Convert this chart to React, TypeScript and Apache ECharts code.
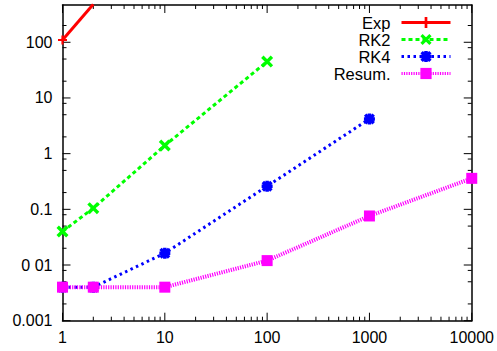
import React, { useEffect, useRef } from "react";
import * as echarts from "echarts";

const xMin = 1;
const xMax = 10000;
const yMin = 0.001;
const yMax = 467;

const expX = [1, 2];
const expY = [110, 480];
const rk2X = [1, 2, 10, 100];
const rk2Y = [0.04, 0.105, 1.4, 45];
const rk4X = [1, 2, 10, 100, 1000];
const rk4Y = [0.004, 0.004, 0.0163, 0.26, 4.2];
const resX = [1, 2, 10, 100, 1000, 10000];
const resY = [0.004, 0.004, 0.004, 0.012, 0.076, 0.36];

const xTickValues = [1, 10, 100, 1000, 10000];
const xTickLabels = ["1", "10", "100", "1000", "10000"];
const yTickValues = [0.001, 0.01, 0.1, 1, 10, 100];
const yTickLabels = ["0.001", "0 01", "0.1", "1", "10", "100"];
const xMinorMult = [2, 3, 4, 5, 6, 7, 8, 9];
const yMinorMult = [2, 5, 8];

const seriesNames = ["Exp", "RK2", "RK4", "Resum."];
const legendTops = [14, 31, 48, 65];

const FONT = "Liberation Sans";

const plusPath = "path://M3.8,0H6.2V10H3.8Z M0,3.8H10V6.2H0Z";
const crossPath = "path://M0,2L2,0L10,8L8,10Z M8,0L10,2L2,10L0,8Z";
const starPath =
  "path://M3.4,0H6.6V10H3.4Z M0,3.4H10V6.6H0Z M0,2.2L2.2,0L10,7.8L7.8,10Z M7.8,0L10,2.2L2.2,10L0,7.8Z";

function labelFor(values: number[], labels: string[], v: number) {
  for (let i = 0; i < values.length; i++) {
    if (Math.abs(Math.log10(v) - Math.log10(values[i])) < 1e-6) return labels[i];
  }
  return "";
}

function zip(xs: number[], ys: number[]) {
  return xs.map((x, i) => [x, ys[i]]);
}

export default function App() {
  const ref = useRef<HTMLDivElement>(null);
  useEffect(() => {
    if (!ref.current) return;
    const chart = echarts.init(ref.current, undefined, { renderer: "svg" });

    const tickData: number[][] = [];
    xTickValues.forEach((v) => tickData.push([v, yMin, 0, 8]));
    yTickValues.forEach((v) => tickData.push([xMin, v, 1, 8]));
    xTickValues.slice(0, -1).forEach((d) =>
      xMinorMult.forEach((m) => tickData.push([d * m, yMin, 0, 4]))
    );
    yTickValues.forEach((d) =>
      yMinorMult.forEach((m) => {
        if (d * m < yMax) tickData.push([xMin, d * m, 1, 4]);
      })
    );

    const axisLine = { show: true, lineStyle: { color: "#000", width: 1.5 } };

    const legends = seriesNames.map((n, i) => ({
      data: [n],
      orient: "horizontal",
      align: "right",
      right: 45,
      top: legendTops[i],
      padding: 0,
      itemWidth: 49,
      itemHeight: 14,
      selectedMode: false,
      lineStyle: { width: 3 },
      textStyle: { fontSize: 16.5, color: "#000", fontFamily: FONT, padding: [0, 6, 0, 0] },
    }));

    chart.setOption({
      animation: false,
      backgroundColor: "#fff",
      grid: { left: 62.5, right: 24.5, top: 5, bottom: 30.3 },
      legend: legends,
      xAxis: [
        {
          type: "log",
          min: xMin,
          max: xMax,
          position: "bottom",
          axisLine,
          axisTick: { show: false },
          splitLine: { show: false },
          axisLabel: {
            fontSize: 16,
            color: "#000",
            fontFamily: FONT,
            margin: 9,
            showMaxLabel: true,
            formatter: (v: number) => labelFor(xTickValues, xTickLabels, v),
          },
        },
        {
          type: "log",
          min: xMin,
          max: xMax,
          position: "top",
          axisLine,
          axisTick: { show: false },
          splitLine: { show: false },
          axisLabel: { show: false },
        },
      ],
      yAxis: [
        {
          type: "log",
          min: yMin,
          max: yMax,
          position: "left",
          axisLine,
          axisTick: { show: false },
          splitLine: { show: false },
          axisLabel: {
            fontSize: 16,
            color: "#000",
            fontFamily: FONT,
            margin: 10,
            formatter: (v: number) => labelFor(yTickValues, yTickLabels, v),
          },
        },
        {
          type: "log",
          min: yMin,
          max: yMax,
          position: "right",
          axisLine,
          axisTick: { show: false },
          splitLine: { show: false },
          axisLabel: { show: false },
        },
      ],
      series: [
        {
          type: "custom",
          name: "ticks",
          silent: true,
          clip: false,
          z: 1,
          encode: { x: 0, y: 1 },
          data: tickData,
          renderItem: (params: any, api: any) => {
            const v0 = api.value(0);
            const v1 = api.value(1);
            const kind = api.value(2);
            const len = api.value(3);
            const style = { stroke: "#000", lineWidth: 1 };
            if (kind === 0) {
              const b = api.coord([v0, yMin]);
              const t = api.coord([v0, yMax]);
              return {
                type: "group",
                children: [
                  { type: "line", shape: { x1: b[0], y1: b[1], x2: b[0], y2: b[1] - len }, style },
                  { type: "line", shape: { x1: t[0], y1: t[1], x2: t[0], y2: t[1] + len }, style },
                ],
              };
            }
            const l = api.coord([xMin, v1]);
            const r = api.coord([xMax, v1]);
            return {
              type: "group",
              children: [
                { type: "line", shape: { x1: l[0], y1: l[1], x2: l[0] + len, y2: l[1] }, style },
                { type: "line", shape: { x1: r[0], y1: r[1], x2: r[0] - len, y2: r[1] }, style },
              ],
            };
          },
        },
        {
          type: "line",
          name: "Exp",
          data: zip(expX, expY),
          color: "#ff0000",
          symbol: plusPath,
          symbolSize: 9,
          lineStyle: { width: 3, color: "#ff0000" },
          itemStyle: { color: "#ff0000" },
          z: 3,
        },
        {
          type: "line",
          name: "RK2",
          data: zip(rk2X, rk2Y),
          color: "#00ff00",
          symbol: crossPath,
          symbolSize: 12,
          lineStyle: { width: 3, color: "#00ff00", type: [4, 3] },
          itemStyle: { color: "#00ff00" },
          z: 3,
        },
        {
          type: "line",
          name: "RK4",
          data: zip(rk4X, rk4Y),
          color: "#0000ff",
          symbol: starPath,
          symbolSize: 11,
          lineStyle: { width: 3, color: "#0000ff", type: [2.5, 3.5] },
          itemStyle: { color: "#0000ff" },
          z: 3,
        },
        {
          type: "line",
          name: "Resum.",
          data: zip(resX, resY),
          color: "#ff00ff",
          symbol: "rect",
          symbolSize: 11,
          lineStyle: { width: 4, color: "#ff00ff", type: [1.2, 1.2] },
          itemStyle: { color: "#ff00ff" },
          z: 4,
        },
      ],
    });
    return () => chart.dispose();
  }, []);
  return <div ref={ref} style={{ width: 497, height: 351, position: "absolute", left: 0, top: 0 }} />;
}
